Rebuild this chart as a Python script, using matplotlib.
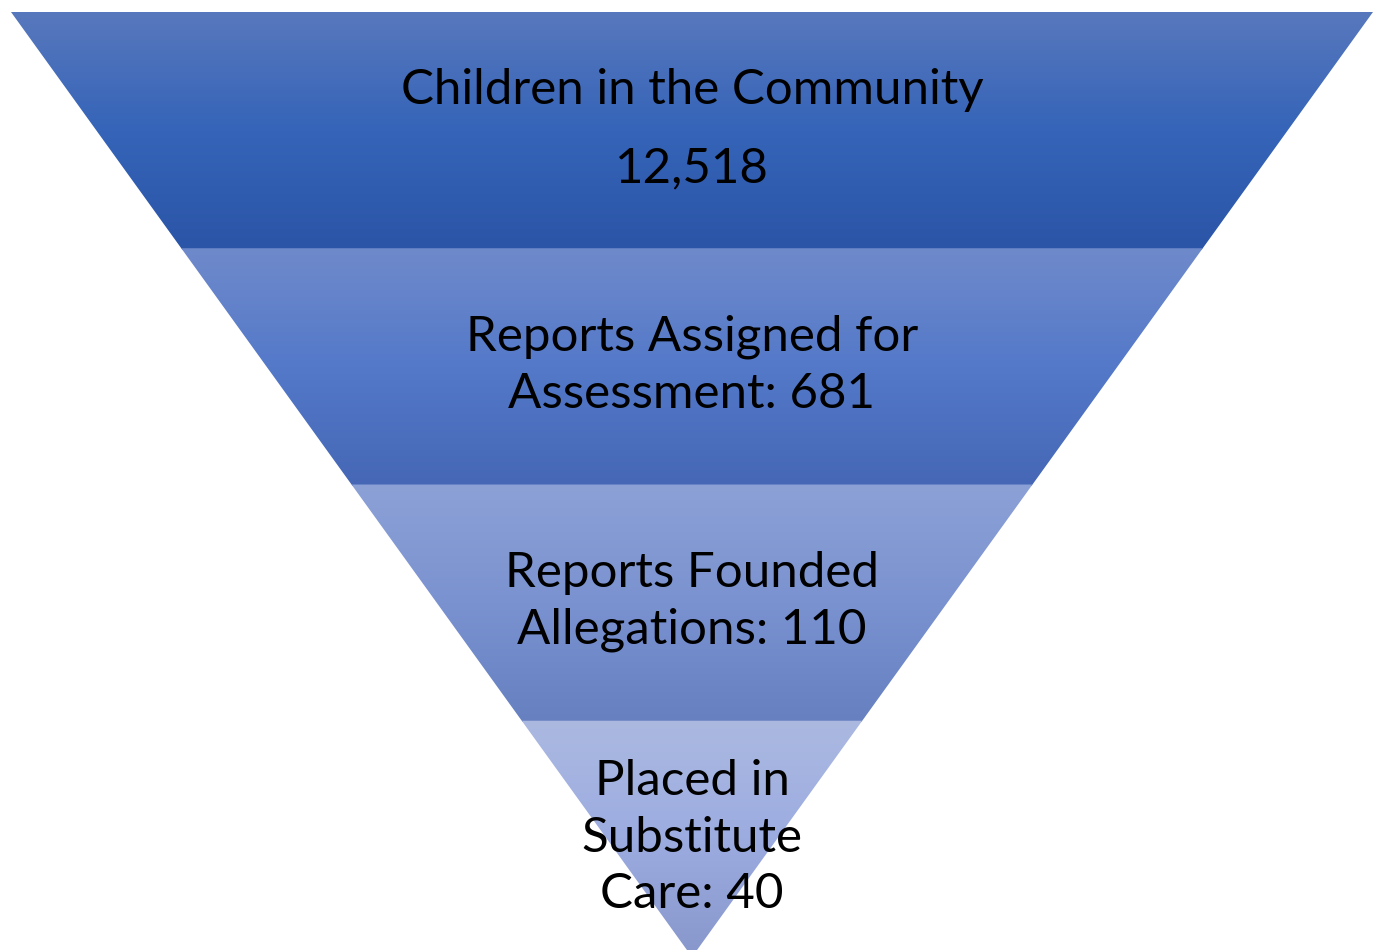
import matplotlib
matplotlib.use("Agg")
import matplotlib.pyplot as plt
import numpy as np
from matplotlib.colors import LinearSegmentedColormap
from matplotlib.patches import Polygon

stages = ["Children in the Community", "Reports Assigned for\nAssessment", "Reports Founded\nAllegations", "Placed in\nSubstitute\nCare"]
values = [12518, 681, 110, 40]
labels = ["Children in the Community\n12,518",
          "Reports Assigned for\nAssessment: 681",
          "Reports Founded\nAllegations: 110",
          "Placed in\nSubstitute\nCare: 40"]
# gradient stops per band (top, middle, bottom)
band_colors = [["#5878bd", "#3564b8", "#2b55a7"],
               ["#6f8acb", "#5479c9", "#4567b5"],
               ["#8ca1d6", "#7a92d0", "#6680c0"],
               ["#abb9e1", "#9cace0", "#8797cb"]]

W, H = 1377, 950
fig = plt.figure(figsize=(W / 100, H / 100), dpi=100)
ax = fig.add_axes([0, 0, 1, 1])
ax.set_xlim(0, W)
ax.set_ylim(H, 0)
ax.axis("off")

top, apex = 12, 957
xl, xr, xc = 10, 1372, 692
n = len(stages)
bh = (apex - top) / n

def half_width(y):
    return (xr - xl) / 2 * (apex - y) / (apex - top)

for i in range(n):
    y0 = top + i * bh
    y1 = y0 + bh
    # overlap slightly with the next band to hide the seam
    y1e = y1 + 1.5 if i < n - 1 else y1
    w0, w1 = half_width(y0), half_width(y1e)
    poly = Polygon([(xc - w0, y0), (xc + w0, y0), (xc + w1, y1e), (xc - w1, y1e)],
                   closed=True, facecolor="none", edgecolor="none")
    ax.add_patch(poly)
    cmap = LinearSegmentedColormap.from_list("b%d" % i, band_colors[i])
    grad = np.linspace(0, 1, 256).reshape(-1, 1)
    im = ax.imshow(grad, cmap=cmap, aspect="auto",
                   extent=[xc - w0, xc + w0, y1e, y0], origin="upper", zorder=1 + i)
    im.set_clip_path(poly)
    ls = 1.97 if i == 0 else 1.35
    ax.text(xc, (y0 + y1) / 2 - 1, labels[i], ha="center", va="center",
            fontsize=35.5, family="Lato", color="black", linespacing=ls, zorder=10)

fig.savefig("out.png", dpi=100)
